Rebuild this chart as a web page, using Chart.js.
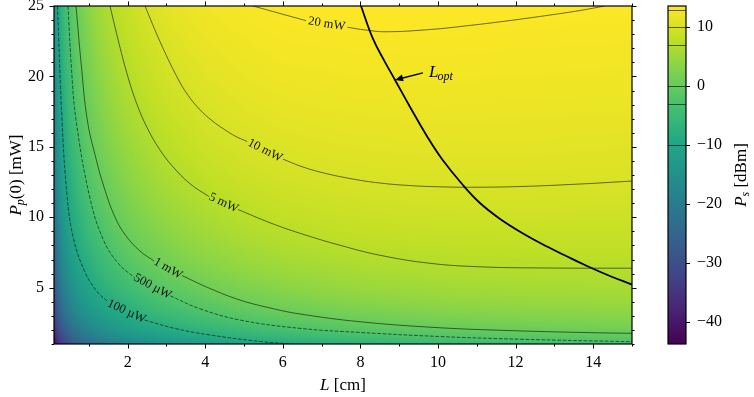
<!DOCTYPE html>
<html>
<head>
<meta charset="utf-8">
<script src="https://cdn.jsdelivr.net/npm/chart.js@4.4.1/dist/chart.umd.min.js"></script>
<style>
  html, body { margin: 0; padding: 0; background: #fff; }
  #wrap { position: relative; width: 754px; height: 397px; }
  #main { position: absolute; left: 0; top: 0; }
  #cbar { position: absolute; left: 650px; top: 0; }
</style>
</head>
<body>
<div id="wrap">
  <canvas id="main" width="650" height="397"></canvas>
  <canvas id="cbar" width="104" height="397"></canvas>
</div>
<script>
// grid of the map: length L [cm] (columns) and pump power Pp(0) [mW] (rows)
const lengths = [0.1, 0.2, 0.35, 0.5, 0.75, 1, 1.5, 2, 3, 4, 5, 6, 8, 10, 12, 15];
const pumps = [1, 1.5, 2, 3, 4, 5, 7, 10, 14, 19, 25];
// signal power Ps [dBm], one row per pump value
const signalDbm = [
  [-43.7, -38.0, -33.2, -30.1, -26.6, -24.1, -20.6, -18.2, -14.8, -12.4, -10.6, -9.2, -7.1, -5.6, -4.6, -3.5],
  [-40.5, -34.5, -29.7, -26.6, -23.1, -20.6, -17.1, -14.7, -11.3, -9.0, -7.2, -5.9, -3.9, -2.6, -1.6, -0.7],
  [-38.0, -32.0, -27.2, -24.1, -20.6, -18.1, -14.7, -12.2, -8.9, -6.6, -4.9, -3.6, -1.7, -0.5, 0.3, 1.1],
  [-34.5, -28.5, -23.6, -20.6, -17.1, -14.6, -11.2, -8.7, -5.4, -3.2, -1.6, -0.4, 1.3, 2.3, 2.9, 3.4],
  [-32.0, -26.0, -21.1, -18.1, -14.6, -12.1, -8.7, -6.3, -3.0, -0.9, 0.7, 1.8, 3.3, 4.2, 4.6, 5.0],
  [-30.1, -24.0, -19.2, -16.1, -12.6, -10.2, -6.8, -4.4, -1.2, 0.9, 2.4, 3.5, 4.8, 5.5, 5.9, 6.1],
  [-27.1, -21.1, -16.3, -13.2, -9.7, -7.3, -3.9, -1.5, 1.6, 3.6, 4.9, 5.8, 6.9, 7.4, 7.6, 7.7],
  [-24.0, -18.0, -13.2, -10.1, -6.7, -4.2, -0.9, 1.4, 4.4, 6.2, 7.4, 8.2, 9.0, 9.3, 9.4, 9.3],
  [-21.1, -15.1, -10.3, -7.2, -3.8, -1.3, 2.0, 4.2, 7.0, 8.7, 9.7, 10.3, 10.8, 11.0, 11.0, 10.8],
  [-18.5, -12.5, -7.6, -4.6, -1.1, 1.3, 4.5, 6.7, 9.3, 10.7, 11.5, 12.0, 12.3, 12.4, 12.3, 12.2],
  [-16.1, -10.1, -5.3, -2.2, 1.2, 3.6, 6.8, 8.8, 11.3, 12.5, 13.1, 13.5, 13.6, 13.6, 13.5, 13.4]
];
const cbMin = -43.7, cbMax = 13.6;

const xTicks = [2, 4, 6, 8, 10, 12, 14];
const xMinor = [1, 3, 5, 7, 9, 11, 13, 15];
const yTicks = [5, 10, 15, 20, 25];
const yMinor = [1, 2, 3, 4, 6, 7, 8, 9, 11, 12, 13, 14, 16, 17, 18, 19, 21, 22, 23, 24];
const cbTicks = [-40, -30, -20, -10, 0, 10];

// contour levels [dBm] and their names
const levels = [-10, -3, 0, 7, 10, 13];
const levelNames = ['100 µW', '500 µW', '1 mW', '5 mW', '10 mW', '20 mW'];

// contour lines, [L, Pp]; null = gap under the label
const contour100uW = [[0.19, 25], [0.306, 16.91], [0.435, 11.58], [0.598, 8.53], [0.899, 6.10], [1.209, 4.73], [1.502, 3.97], null,
  [2.436, 2.70], [3.219, 2.10], [4.122, 1.64], [5.411, 1.18], [6.442, 0.96]];
const contour500uW = [[0.461, 25], [0.551, 20.53], [0.667, 16.91], [1.028, 11.34], [1.371, 8.41], [1.75, 6.74], [2.183, 5.69], null,
  [3.096, 4.42], [3.864, 3.50], [4.895, 2.70], [6.442, 2.11], [7.989, 1.82], [10.05, 1.53], [12.11, 1.34], [15, 1.16]];
const contour1mW = [[0.667, 25], [0.796, 21.02], [0.958, 16.91], [1.183, 14.16], [1.389, 12.14], [1.673, 10.0], [1.956, 8.68],
  [2.317, 7.60], [2.681, 6.89], null,
  [3.40, 5.86], [4.122, 4.94], [4.895, 4.12], [5.668, 3.56], [6.442, 3.13], [7.989, 2.58], [9.999, 2.16], [12.01, 1.94],
  [14.02, 1.80], [15, 1.76]];
const contour5mW = [[1.544, 25], [1.776, 22.34], [2.008, 19.95], [2.24, 18.01], [2.498, 16.37], [2.807, 14.88], [3.142, 13.66],
  [3.606, 12.38], [4.096, 11.47], null,
  [4.843, 10.55], [5.668, 9.61], [6.442, 8.86], [7.473, 8.01], [8.504, 7.30], [9.793, 6.73], [11.08, 6.48], [12.63, 6.40], [15, 6.38]];
const contour10mW = [[2.446, 25], [2.833, 22.47], [3.271, 19.96], [3.555, 18.66], [3.864, 17.63], [4.173, 16.86], [4.483, 16.25],
  [4.792, 15.73], [5.081, 15.38], null,
  [6.0, 14.13], [6.442, 13.64], [6.957, 13.21], [7.731, 12.75], [8.504, 12.43], [9.278, 12.25], [10.05, 12.16], [10.82, 12.13],
  [12.11, 12.18], [13.66, 12.36], [15, 12.57]];
const contour20mW = [[5.23, 25], [5.926, 24.47], [6.597, 23.96], null,
  [7.664, 23.49], [8.117, 23.3], [8.633, 23.17], [9.793, 23.33], [10.82, 23.62], [11.86, 23.97], [12.89, 24.36],
  [13.66, 24.68], [14.3, 25]];
const contours = [contour100uW, contour500uW, contour1mW, contour5mW, contour10mW, contour20mW];

// optimum length curve
const lOpt = [[8.014, 25], [8.324, 22.66], [8.633, 21.02], [8.891, 19.75], [9.278, 17.83], [9.742, 15.63], [10.10, 14.14],
  [10.64, 12.29], [11.08, 11.01], [11.60, 9.88], [12.19, 8.85], [12.81, 7.92], [13.33, 7.21], [13.84, 6.54], [14.43, 5.83], [15, 5.22]];

// where the inline contour labels sit (data coords) and their rotation
const labelSpots = [
  { L: 1.969, P: 3.31, rot: 25 },
  { L: 2.639, P: 5.08, rot: 28 },
  { L: 3.039, P: 6.36, rot: 30 },
  { L: 4.47, P: 11.02, rot: 25 },
  { L: 5.54, P: 14.74, rot: 27 },
  { L: 7.13, P: 23.72, rot: 9 }
];

const serif = "'Liberation Serif', 'DejaVu Serif', serif";
const viridis = ['#440154', '#482475', '#414487', '#355f8d', '#2a788e', '#21918c',
  '#22a884', '#44bf70', '#7ad151', '#bddf26', '#fde725'];
const viridisRgb = viridis.map(h => [1, 3, 5].map(i => parseInt(h.substr(i, 2), 16)));

function colourAt(t) {
  t = Math.max(0, Math.min(1, t));
  const n = viridisRgb.length - 1;
  const f = t * n;
  const i = Math.min(Math.floor(f), n - 1);
  const u = f - i;
  const a = viridisRgb[i], b = viridisRgb[i + 1];
  return [a[0] + (b[0] - a[0]) * u, a[1] + (b[1] - a[1]) * u, a[2] + (b[2] - a[2]) * u];
}

// cell index + fraction, measured in log space
function locate(arr, v) {
  if (v <= arr[0]) return [0, 0];
  if (v >= arr[arr.length - 1]) return [arr.length - 2, 1];
  let i = 0;
  while (v > arr[i + 1]) i++;
  return [i, (Math.log(v) - Math.log(arr[i])) / (Math.log(arr[i + 1]) - Math.log(arr[i]))];
}

function drawParts(ctx, parts, x, y) {
  let w = 0;
  parts.forEach(p => { ctx.font = p.font; w += ctx.measureText(p.t).width; });
  let cx = x - w / 2;
  parts.forEach(p => {
    ctx.font = p.font;
    ctx.fillText(p.t, cx, y + (p.dy || 0));
    cx += ctx.measureText(p.t).width;
  });
}

const heatmap = {
  id: 'heatmap',
  beforeDatasetsDraw(chart) {
    const { ctx, chartArea: a, scales: { x, y } } = chart;
    const w = Math.round(a.right - a.left), h = Math.round(a.bottom - a.top);
    const off = document.createElement('canvas');
    off.width = w; off.height = h;
    const octx = off.getContext('2d');
    const img = octx.createImageData(w, h);
    const cols = [];
    for (let i = 0; i < w; i++) cols.push(locate(lengths, x.getValueForPixel(a.left + i + 0.5)));
    for (let j = 0; j < h; j++) {
      const [r, tr] = locate(pumps, y.getValueForPixel(a.top + j + 0.5));
      const r0 = signalDbm[r], r1 = signalDbm[r + 1];
      for (let i = 0; i < w; i++) {
        const [c, tc] = cols[i];
        const v = (1 - tr) * ((1 - tc) * r0[c] + tc * r0[c + 1]) + tr * ((1 - tc) * r1[c] + tc * r1[c + 1]);
        const col = colourAt((v - cbMin) / (cbMax - cbMin));
        const k = (j * w + i) * 4;
        img.data[k] = col[0]; img.data[k + 1] = col[1]; img.data[k + 2] = col[2]; img.data[k + 3] = 255;
      }
    }
    octx.putImageData(img, 0, 0);
    ctx.drawImage(off, a.left, a.top);
  }
};

const decorations = {
  id: 'decorations',
  afterDatasetsDraw(chart) {
    const { ctx, scales: { x, y } } = chart;
    ctx.save();
    // contour labels
    ctx.fillStyle = '#111';
    ctx.textAlign = 'center';
    ctx.textBaseline = 'middle';
    ctx.font = '12.5px ' + serif;
    labelSpots.forEach((s, i) => {
      ctx.save();
      ctx.translate(x.getPixelForValue(s.L), y.getPixelForValue(s.P));
      ctx.rotate(s.rot * Math.PI / 180);
      ctx.fillText(levelNames[i], 0, 0);
      ctx.restore();
    });
    // L_opt annotation
    const tx = x.getPixelForValue(8.891), ty = y.getPixelForValue(19.75);
    const sx = x.getPixelForValue(9.61), sy = y.getPixelForValue(20.25);
    const ang = Math.atan2(ty - sy, tx - sx);
    ctx.strokeStyle = '#000';
    ctx.fillStyle = '#000';
    ctx.lineWidth = 1.5;
    ctx.beginPath();
    ctx.moveTo(sx, sy);
    ctx.lineTo(tx - 5 * Math.cos(ang), ty - 5 * Math.sin(ang));
    ctx.stroke();
    ctx.beginPath();
    ctx.moveTo(tx, ty);
    ctx.lineTo(tx - 8 * Math.cos(ang) + 3.5 * Math.sin(ang), ty - 8 * Math.sin(ang) - 3.5 * Math.cos(ang));
    ctx.lineTo(tx - 8 * Math.cos(ang) - 3.5 * Math.sin(ang), ty - 8 * Math.sin(ang) + 3.5 * Math.cos(ang));
    ctx.closePath();
    ctx.fill();
    ctx.textAlign = 'left';
    ctx.textBaseline = 'alphabetic';
    const lx = x.getPixelForValue(9.77), ly = y.getPixelForValue(19.96);
    ctx.font = 'italic 17px ' + serif;
    ctx.fillText('L', lx, ly);
    const lw = ctx.measureText('L').width;
    ctx.font = 'italic 12px ' + serif;
    ctx.fillText('opt', lx + lw - 1, ly + 3.5);
    ctx.restore();
  },
  afterDraw(chart) {
    const { ctx, chartArea: a, scales: { x, y } } = chart;
    ctx.save();
    ctx.strokeStyle = '#000';
    ctx.lineWidth = 1;
    const xtick = (vals, len) => {
      vals.forEach(v => {
        const p = Math.round(x.getPixelForValue(v)) + 0.5;
        ctx.beginPath();
        ctx.moveTo(p, a.bottom); ctx.lineTo(p, a.bottom + len);
        ctx.moveTo(p, a.top); ctx.lineTo(p, a.top - len);
        ctx.stroke();
      });
    };
    const ytick = (vals, len) => {
      vals.forEach(v => {
        const p = Math.round(y.getPixelForValue(v)) + 0.5;
        ctx.beginPath();
        ctx.moveTo(a.left, p); ctx.lineTo(a.left - len, p);
        ctx.moveTo(a.right, p); ctx.lineTo(a.right + len, p);
        ctx.stroke();
      });
    };
    xtick(xTicks, 4.5); xtick(xMinor, 2.5);
    ytick(yTicks, 4.5); ytick(yMinor, 2.5);
    ctx.lineWidth = 1.2;
    ctx.strokeRect(a.left, a.top, a.right - a.left, a.bottom - a.top);
    // axis titles
    ctx.fillStyle = '#000';
    ctx.textBaseline = 'middle';
    ctx.textAlign = 'left';
    drawParts(ctx, [
      { t: 'L', font: 'italic 17px ' + serif },
      { t: ' [cm]', font: '17px ' + serif }
    ], (a.left + a.right) / 2, 386);
    ctx.save();
    ctx.translate(17, (a.top + a.bottom) / 2);
    ctx.rotate(-Math.PI / 2);
    drawParts(ctx, [
      { t: 'P', font: 'italic 17px ' + serif },
      { t: 'p', font: 'italic 12px ' + serif, dy: 4 },
      { t: '(0) [mW]', font: '17px ' + serif }
    ], 0, 0);
    ctx.restore();
    ctx.restore();
  }
};

const toPoints = arr => arr.map(p => (p ? { x: p[0], y: p[1] } : { x: NaN, y: NaN }));
const contourSets = contours.map((c, i) => ({
  data: toPoints(c),
  showLine: true,
  borderColor: 'rgba(0,0,0,0.55)',
  borderWidth: 1,
  borderDash: levels[i] < 0 ? [3.7, 1.6] : [],
  pointRadius: 0,
  tension: 0.4
}));

new Chart(document.getElementById('main'), {
  type: 'scatter',
  data: {
    datasets: [...contourSets, {
      data: toPoints(lOpt),
      showLine: true,
      borderColor: '#000',
      borderWidth: 1.8,
      pointRadius: 0,
      tension: 0.4
    }]
  },
  options: {
    responsive: false,
    animation: false,
    events: [],
    layout: { padding: { top: 6, right: 18, left: 0, bottom: 0 } },
    plugins: { legend: { display: false }, tooltip: { enabled: false } },
    scales: {
      x: {
        type: 'linear', min: 0.1, max: 15,
        afterBuildTicks: s => { s.ticks = xTicks.map(v => ({ value: v })); },
        afterFit: s => { s.height = 53; s.paddingLeft = 0; s.paddingRight = 0; },
        grid: { display: false, drawTicks: false },
        border: { display: false },
        ticks: { padding: 9, color: '#000', font: { family: serif, size: 16 } }
      },
      y: {
        type: 'linear', min: 1, max: 25,
        afterBuildTicks: s => { s.ticks = yTicks.map(v => ({ value: v })); },
        afterFit: s => { s.width = 54; s.paddingTop = 0; s.paddingBottom = 0; },
        grid: { display: false, drawTicks: false },
        border: { display: false },
        ticks: { padding: 10, color: '#000', font: { family: serif, size: 16 } }
      }
    }
  },
  plugins: [heatmap, decorations]
});

// colour bar
const cbarDecor = {
  id: 'cbarDecor',
  afterDatasetsDraw(chart) {
    const { ctx, chartArea: a, scales: { y } } = chart;
    ctx.save();
    ctx.strokeStyle = 'rgba(0,0,0,0.6)';
    ctx.lineWidth = 1;
    levels.forEach(v => {
      const p = Math.round(y.getPixelForValue(v)) + 0.5;
      ctx.beginPath(); ctx.moveTo(a.left, p); ctx.lineTo(a.right, p); ctx.stroke();
    });
    ctx.strokeStyle = '#000';
    cbTicks.forEach(v => {
      const p = Math.round(y.getPixelForValue(v)) + 0.5;
      ctx.beginPath(); ctx.moveTo(a.right, p); ctx.lineTo(a.right + 4, p); ctx.stroke();
    });
    ctx.lineWidth = 1.2;
    ctx.strokeRect(a.left, a.top, a.right - a.left, a.bottom - a.top);
    ctx.fillStyle = '#000';
    ctx.textBaseline = 'middle';
    ctx.translate(92, (a.top + a.bottom) / 2);
    ctx.rotate(-Math.PI / 2);
    drawParts(ctx, [
      { t: 'P', font: 'italic 17px ' + serif },
      { t: 's', font: 'italic 12px ' + serif, dy: 4 },
      { t: ' [dBm]', font: '17px ' + serif }
    ], 0, 0);
    ctx.restore();
  }
};

new Chart(document.getElementById('cbar'), {
  type: 'bar',
  data: {
    labels: [''],
    datasets: [{
      data: [[cbMin, cbMax]],
      barPercentage: 1,
      categoryPercentage: 1,
      borderWidth: 0,
      backgroundColor: c => {
        const ch = c.chart;
        if (!ch.chartArea) return viridis[5];
        const ys = ch.scales.y;
        const g = ch.ctx.createLinearGradient(0, ys.getPixelForValue(cbMin), 0, ys.getPixelForValue(cbMax));
        viridis.forEach((col, i) => g.addColorStop(i / (viridis.length - 1), col));
        return g;
      }
    }]
  },
  options: {
    responsive: false,
    animation: false,
    events: [],
    layout: { padding: { top: 6, right: 0, left: 18, bottom: 53 } },
    plugins: { legend: { display: false }, tooltip: { enabled: false } },
    scales: {
      x: { display: false },
      y: {
        position: 'right', min: cbMin, max: cbMax,
        afterBuildTicks: s => { s.ticks = cbTicks.map(v => ({ value: v })); },
        afterFit: s => { s.width = 68; s.paddingTop = 0; s.paddingBottom = 0; },
        grid: { display: false, drawTicks: false },
        border: { display: false },
        ticks: {
          padding: 11, color: '#000', font: { family: serif, size: 16 },
          callback: v => (v < 0 ? '\u2212' + Math.abs(v) : String(v))
        }
      }
    }
  },
  plugins: [cbarDecor]
});
</script>
</body>
</html>
